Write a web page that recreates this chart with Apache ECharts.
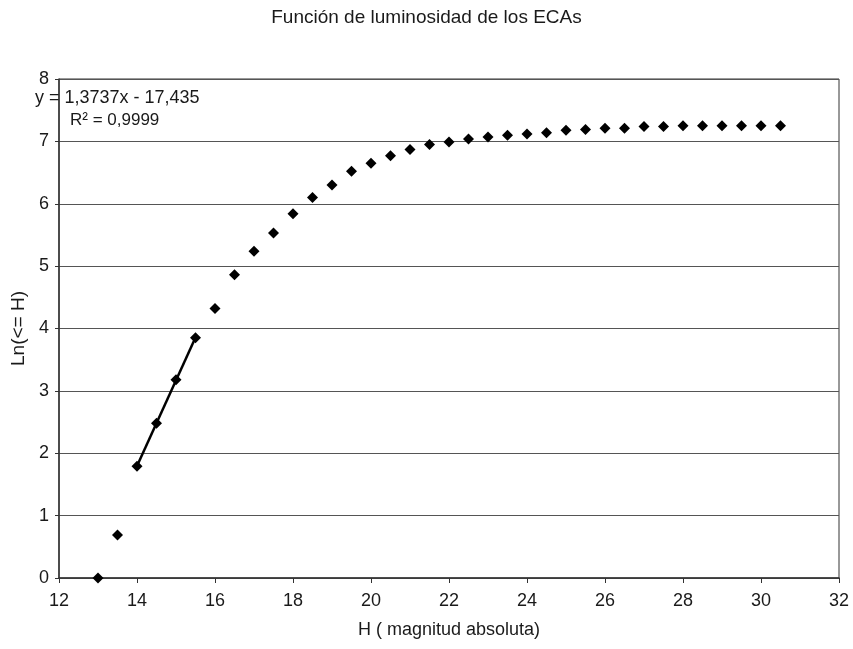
<!DOCTYPE html>
<html><head><meta charset="utf-8">
<script src="https://cdn.jsdelivr.net/npm/echarts@6/dist/echarts.min.js"></script>
<style>html,body{margin:0;padding:0;background:#fff}#c{width:853px;height:649px}</style>
</head><body><div id="c"></div>
<script>
const magnitudes = [13,13.5,14,14.5,15,15.5,16,16.5,17,17.5,18,18.5,19,19.5,20,20.5,21,21.5,22,22.5,23,23.5,24,24.5,25,25.5,26,26.5,27,27.5,28,28.5,29,29.5,30,30.5];
const lnCounts = [0,0.69,1.79,2.48,3.18,3.85,4.32,4.86,5.24,5.53,5.84,6.10,6.30,6.52,6.65,6.77,6.87,6.95,6.99,7.04,7.07,7.10,7.12,7.14,7.18,7.19,7.21,7.21,7.24,7.24,7.25,7.25,7.25,7.25,7.25,7.25];
const trendX = [14, 15.5];
const trendY = [1.797, 3.857];
const xTicks = {min:12, max:32, interval:2};
const yTicks = {min:0, max:8, interval:1};
const titleText = 'Función de luminosidad de los ECAs';
const eqText = 'y = 1,3737x - 17,435';
const r2Text = 'R² = 0,9999';

const chart = echarts.init(document.getElementById('c'), null, {renderer:'canvas'});
const font = 'Liberation Sans, Arial, sans-serif';
chart.setOption({
  animation:false,
  backgroundColor:'#fff',
  title:{text:titleText, left:'center', top:3, textStyle:{fontFamily:font, fontSize:19, fontWeight:'normal', color:'#1a1a1a'}},
  grid:{left:59, right:14, top:79, bottom:71, show:true, borderColor:'#333', borderWidth:1, backgroundColor:'#fff'},
  xAxis:{type:'value', min:xTicks.min, max:xTicks.max, interval:xTicks.interval,
    name:'H ( magnitud absoluta)', nameLocation:'middle', nameGap:43,
    nameTextStyle:{fontFamily:font, fontSize:18, color:'#1a1a1a'},
    axisLine:{show:true, onZero:false, lineStyle:{color:'#333', width:1.5}},
    axisTick:{show:true, length:5, lineStyle:{color:'#333'}},
    axisLabel:{fontFamily:font, fontSize:18, color:'#1a1a1a', margin:14},
    splitLine:{show:false}},
  yAxis:{type:'value', min:yTicks.min, max:yTicks.max, interval:yTicks.interval,
    name:'Ln(<= H)', nameLocation:'middle', nameGap:28, nameRotate:90,
    nameTextStyle:{fontFamily:font, fontSize:19, color:'#1a1a1a'},
    axisLine:{show:true, lineStyle:{color:'#333', width:1.5}},
    axisTick:{show:true, length:4, lineStyle:{color:'#333'}},
    axisLabel:{fontFamily:font, fontSize:18, color:'#1a1a1a', margin:10},
    splitLine:{show:true, lineStyle:{color:'#555', width:1.2}}},
  graphic:[
    {type:'text', left:35, top:89, z:10, style:{text:eqText, fontFamily:font, fontSize:18, fill:'#1a1a1a'}},
    {type:'text', left:70, top:112, z:10, style:{text:r2Text, fontFamily:font, fontSize:17, fill:'#1a1a1a'}}
  ],
  series:[
    {type:'line', data:trendX.map((x,i)=>[x,trendY[i]]), symbol:'none', lineStyle:{color:'#000', width:2.5}, z:3},
    {type:'scatter', data:magnitudes.map((x,i)=>[x,lnCounts[i]]), symbol:'diamond', symbolSize:[11,11], itemStyle:{color:'#000', opacity:1}, z:4}
  ]
});
</script></body></html>
